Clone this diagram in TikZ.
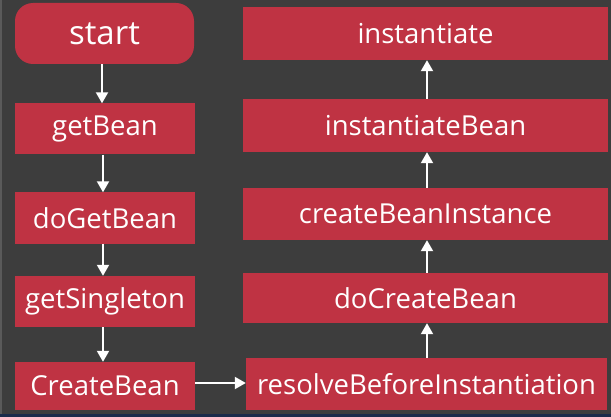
\documentclass[tikz,border=0pt]{standalone}
\usepackage{fontspec}
\setmainfont{Open Sans}
\usetikzlibrary{arrows.meta}
\definecolor{bg}{HTML}{3D3D3D}
\definecolor{boxred}{HTML}{BF3343}
\definecolor{edge}{HTML}{5A5A5A}
\definecolor{strip}{HTML}{1B2B4A}
\begin{document}
\begin{tikzpicture}[x=1pt,y=-1pt,
  box/.style={fill=boxred, draw=none, inner sep=0pt, text=white, font=\fontsize{27.5}{27.5}\selectfont},
  lbox/.style={box, minimum width=180pt, minimum height=51pt},
  rbox/.style={box, minimum width=365pt, minimum height=52pt},
  flow/.style={draw=white, line width=2pt, -{Triangle[width=12pt,length=11pt]}}]
\fill[bg] (0,0) rectangle (611,417);
\useasboundingbox (0,0) rectangle (611,417);
\fill[edge] (0,0) rectangle (2,414);
\fill[strip] (0,414) rectangle (611,417);
% left column
\node[box, rounded corners=18pt, minimum width=179pt, minimum height=61pt, font=\fontsize{33}{33}\selectfont] (start) at (104.5,33.5) {start};
\node[lbox] (getbean) at (105,129) {getBean};
\node[lbox] (dogetbean) at (105,218) {doGetBean};
\node[lbox] (getsingleton) at (105,301.5) {getSingleton};
\node[lbox, minimum height=48pt] (createbean) at (105,386) {CreateBean};
% right column
\node[rbox, minimum height=53pt] (instantiate) at (425.5,33.5) {instantiate};
\node[rbox, minimum height=53pt] (instantiatebean) at (425.5,125.5) {instantiateBean};
\node[rbox] (cbi) at (425.5,214) {createBeanInstance};
\node[rbox, minimum height=50pt] (docreatebean) at (425.5,298) {doCreateBean};
\node[box, minimum width=361pt, minimum height=52pt] (resolve) at (426.5,384) {resolveBeforeInstantiation};
% connectors
\draw[flow] (start.south -| 102,0) -- (getbean.north -| 102,0);
\draw[flow] (getbean.south -| 103,0) -- (dogetbean.north -| 103,0);
\draw[flow] (dogetbean.south -| 103,0) -- (getsingleton.north -| 103,0);
\draw[flow] (getsingleton.south -| 103,0) -- (createbean.north -| 103,0);
\draw[flow] (createbean.east |- 0,383) -- (resolve.west |- 0,383);
\draw[flow] (resolve.north -| 427,0) -- (docreatebean.south -| 427,0);
\draw[flow] (docreatebean.north -| 427,0) -- (cbi.south -| 427,0);
\draw[flow] (cbi.north -| 427,0) -- (instantiatebean.south -| 427,0);
\draw[flow] (instantiatebean.north -| 427,0) -- (instantiate.south -| 427,0);
\end{tikzpicture}
\end{document}
